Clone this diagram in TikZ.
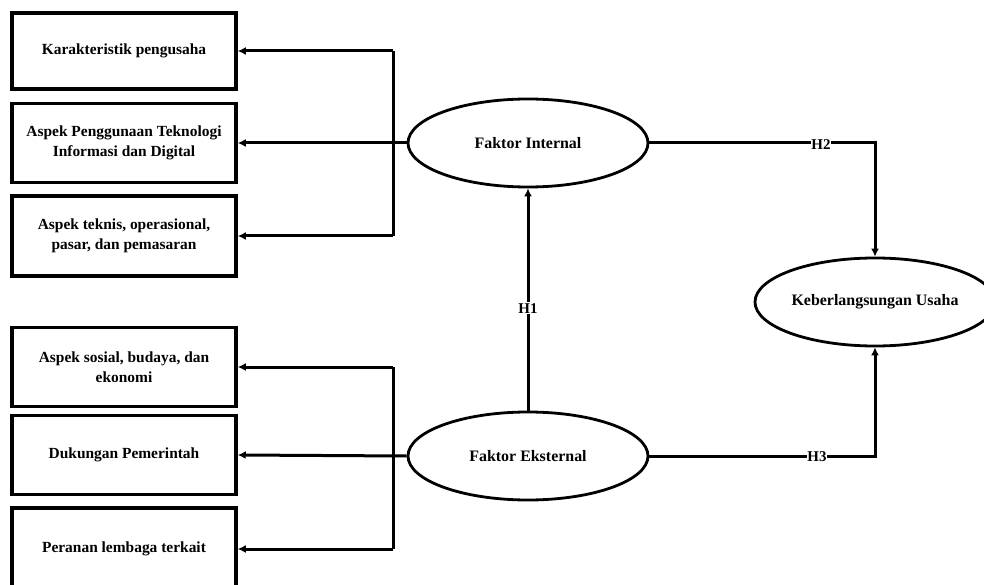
\documentclass[tikz,border=0pt]{standalone}
\usepackage{fontspec}
\setmainfont{Liberation Serif}
\usetikzlibrary{arrows.meta,shapes.geometric}
\begin{document}
\begin{tikzpicture}[x=1bp,y=-1bp,
  box/.style={draw,line width=3.5bp,minimum width=224bp,align=center,font=\fontsize{15.5}{20}\selectfont\bfseries,inner sep=0pt},
  ell/.style={draw,line width=2.8bp,ellipse,minimum width=240bp,minimum height=88bp,inner sep=0pt,font=\fontsize{16}{18}\selectfont\bfseries},
  conn/.style={line width=3bp,line join=miter},
  arr/.style={line width=3bp,-{Latex[length=8bp,width=8bp]}},
  hlab/.style={fill=white,inner sep=1bp,font=\fontsize{15}{16}\selectfont\bfseries}]
\useasboundingbox (0,0) rectangle (984,585);
% left boxes
\node[box,minimum height=76bp] (b1) at (124,51) {Karakteristik pengusaha};
\node[box,minimum height=79bp] (b2) at (124,143) {Aspek Penggunaan Teknologi\\Informasi dan Digital};
\node[box,minimum height=80bp] (b3) at (124,236) {Aspek teknis, operasional,\\pasar, dan pemasaran};
\node[box,minimum height=79bp] (b4) at (124,367) {Aspek sosial, budaya, dan\\ekonomi};
\node[box,minimum height=79bp] (b5) at (124,455) {Dukungan Pemerintah};
\node[box,minimum height=82bp] (b6) at (124,549) {Peranan lembaga terkait};
% ellipses
\node[ell] (fi) at (528,143) {Faktor Internal};
\node[ell] (fe) at (528,456) {Faktor Eksternal};
\node[ell] (ku) at (875,302) {Keberlangsungan Usaha};
% bus coordinates
\coordinate (t1) at (393,51);
\coordinate (t3) at (393,236);
\coordinate (u1) at (393,367);
\coordinate (u3) at (393,549);
\coordinate (c1) at (875,143);
\coordinate (c2) at (875,456);
% top bus
\draw[conn] (t1) -- (t3);
\draw[conn] (fi.west) -- (t1 |- fi.west);
\draw[arr] (t1) -- (b1.east);
\draw[arr] (fi.west) -- (b2.east);
\draw[arr] (t3) -- (b3.east);
% bottom bus
\draw[conn] (u1) -- (u3);
\draw[arr] (u1) -- (b4.east);
\draw[arr] (fe.west) -- (b5.east);
\draw[arr] (u3) -- (b6.east);
% hypotheses
\draw[arr] (fe.north) -- node[hlab,pos=0.46] {H1} (fi.south);
\draw[conn] (fi.east) -- (c1) -- ([yshift=-1.5bp]c1);
\draw[arr] (c1) -- (ku.north);
\draw[conn] (fe.east) -- (c2) -- ([yshift=1.5bp]c2);
\draw[arr] (c2) -- (ku.south);
\node[hlab,anchor=north,inner sep=0pt] (h2) at (821,139) {H2};
\node[hlab,anchor=north,inner sep=0pt] (h3) at (817,451) {H3};
\end{tikzpicture}
\end{document}
